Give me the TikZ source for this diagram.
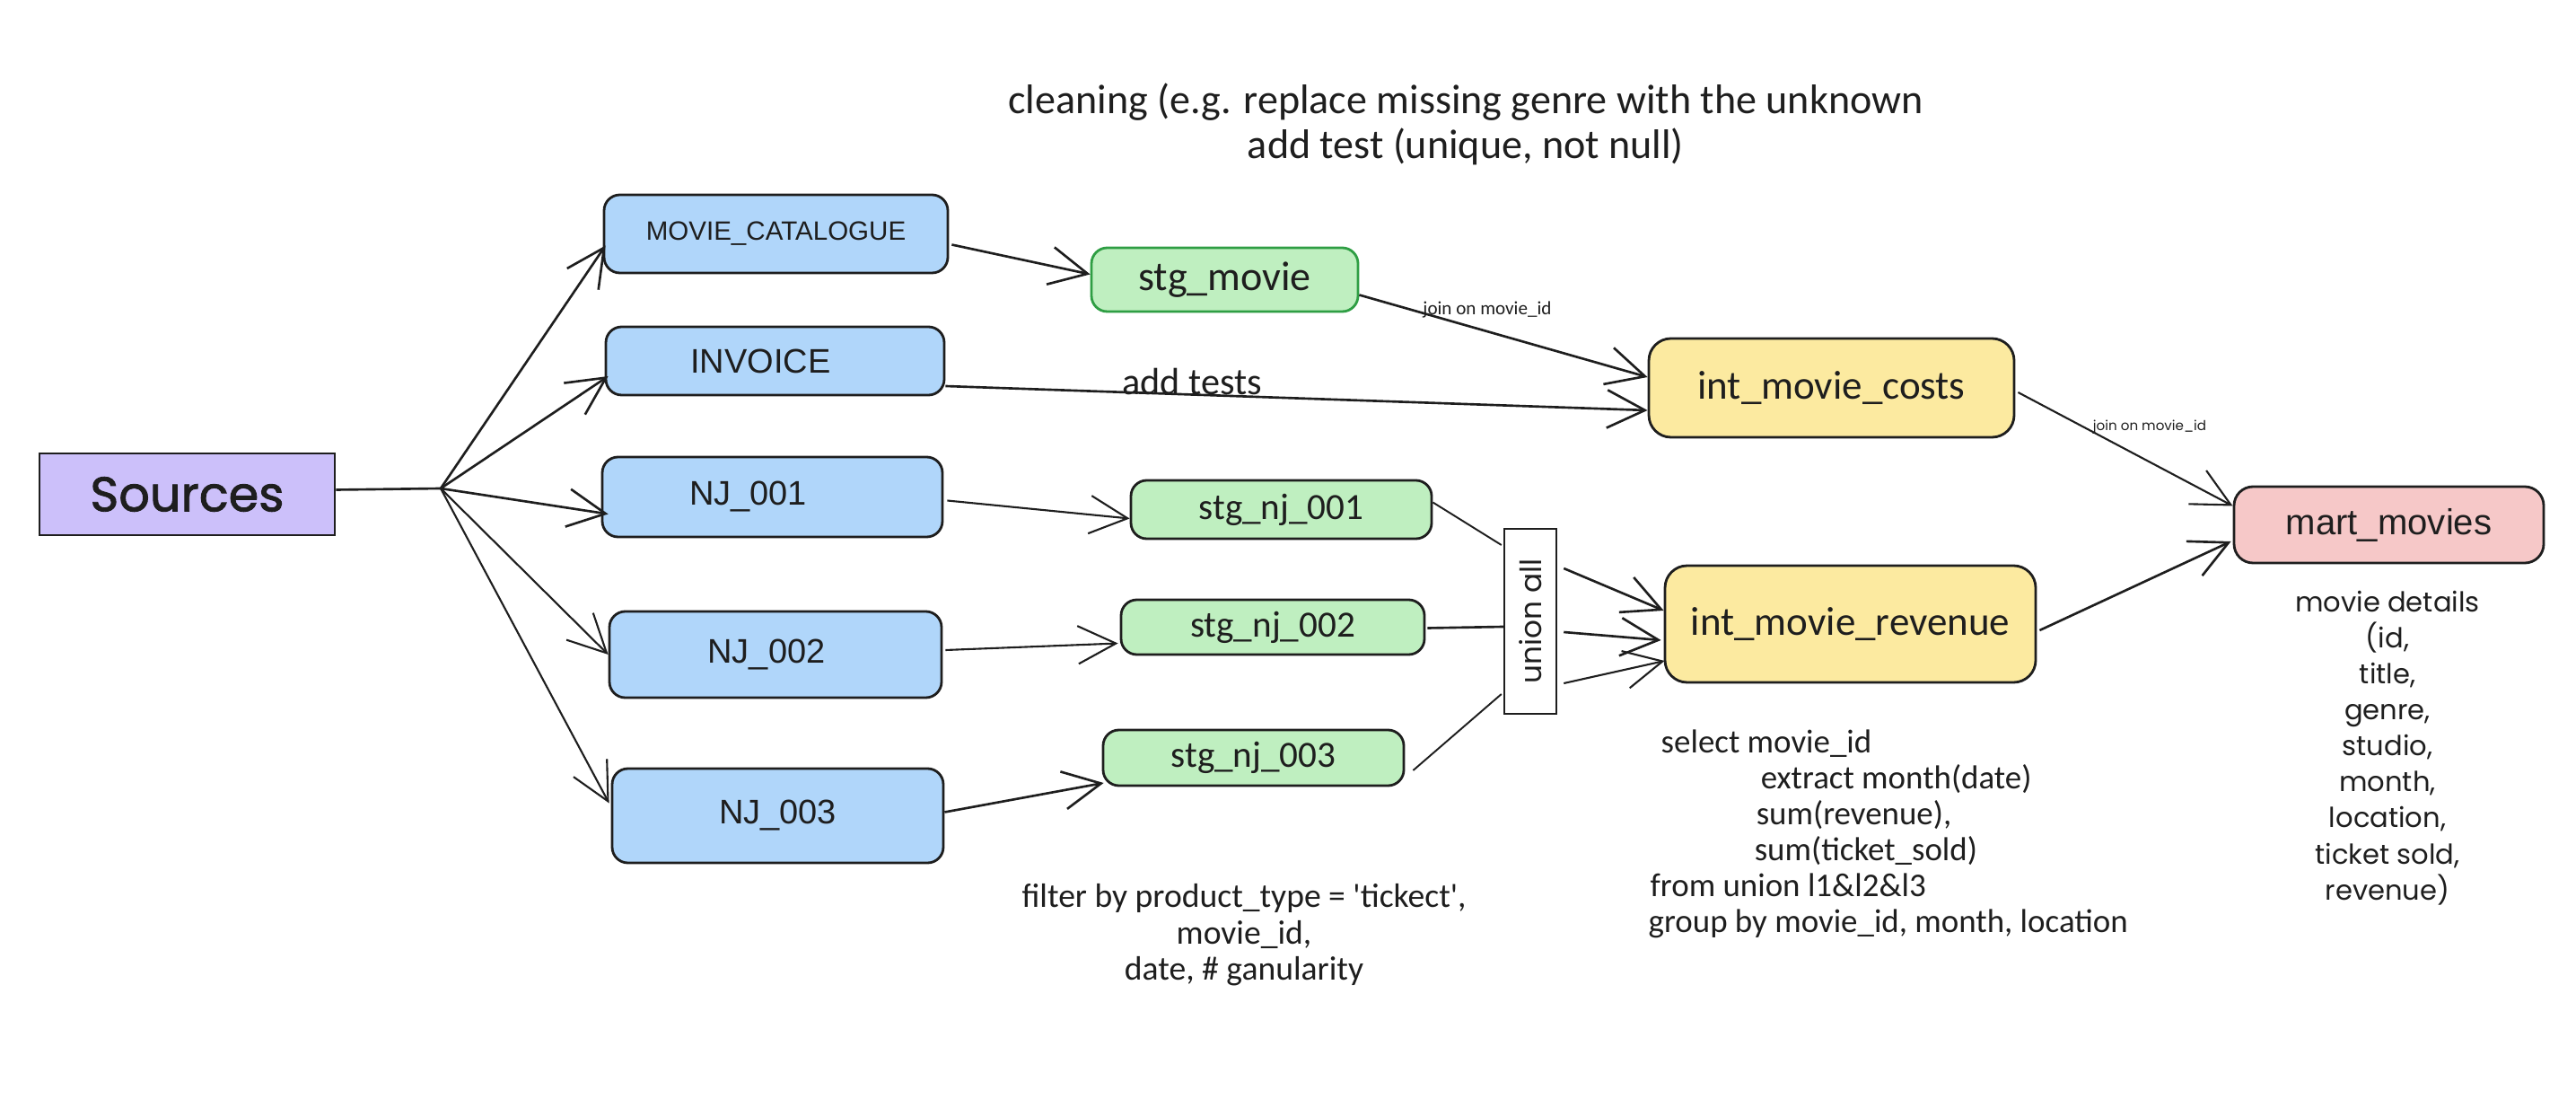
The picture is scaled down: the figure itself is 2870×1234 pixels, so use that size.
\documentclass[tikz,border=0pt]{standalone}
\usepackage{fontspec}
\setmainfont{Liberation Sans}
\newfontfamily\handfont{Carlito}
\newfontfamily\roundfont{Poppins}
\newfontfamily\roundbold[FakeBold=1.6]{Poppins}
\usetikzlibrary{arrows.meta,calc}
\definecolor{cblue}{HTML}{B0D6FA}
\definecolor{cgreen}{HTML}{BFEFC0}
\definecolor{cgreenline}{HTML}{2F9E44}
\definecolor{cyellow}{HTML}{FCEAA0}
\definecolor{cred}{HTML}{F6C8C8}
\definecolor{cviolet}{HTML}{CCC0FA}
\definecolor{ink}{HTML}{1E1E1E}
\newcommand{\fsz}[2]{\fontsize{#1}{#2}\selectfont}
\begin{document}
\begin{tikzpicture}[x=0.01cm,y=-0.01cm,
  every node/.style={text=ink},
  sz/.style 2 args={minimum width=#1*0.01cm, minimum height=#2*0.01cm},
  box/.style={draw=ink, line width=0.8pt, rounded corners=5pt, inner sep=0pt},
  srcbox/.style={box, fill=cviolet, sharp corners},
  bluebox/.style={box, fill=cblue},
  greenbox/.style={box, fill=cgreen},
  stgmbox/.style={box, fill=cgreen, draw=cgreenline},
  yellowbox/.style={box, fill=cyellow, rounded corners=7pt},
  redbox/.style={box, fill=cred, rounded corners=6pt},
  unionbox/.style={draw=ink, line width=0.7pt, fill=white, inner sep=0pt, sharp corners},
  arr/.style={draw=ink, line width=0.75pt, -{Straight Barb[length=12pt,width=12pt]}},
  plainline/.style={draw=ink, line width=0.55pt},
  notetext/.style={inner sep=0pt},
]
\useasboundingbox (0,0) rectangle (2870,1234);

% ---------- nodes ----------
\node[srcbox, sz={329}{91}, font={\roundbold\fsz{15.4pt}{18pt}}] (src) at (208.5,550.5) {Sources};

\node[bluebox, sz={383}{87}, font={\fsz{8.4pt}{10pt}}] (mc) at (864.5,260.5) {MOVIE\_CATALOGUE};
\node[bluebox, sz={377}{76}, font={\fsz{10.8pt}{13pt}}] (inv) at (863.5,402) {INVOICE\hspace*{0.32cm}};
\node[bluebox, sz={379}{89}, font={\fsz{10.8pt}{13pt}}] (nj1) at (860.5,553.5) {NJ\_001\hspace*{0.54cm}};
\node[bluebox, sz={370}{96}, font={\fsz{10.8pt}{13pt}}] (nj2) at (864,729) {NJ\_002\hspace*{0.2cm}};
\node[bluebox, sz={369}{105}, font={\fsz{10.8pt}{13pt}}] (nj3) at (866.5,908.5) {NJ\_003};

\node[stgmbox, sz={297}{71}, font={\handfont\fsz{13.1pt}{15pt}}] (stgm) at (1364.5,311.5) {stg\_movie};
\node[greenbox, sz={335}{65}, font={\handfont\fsz{11.7pt}{14pt}}] (stg1) at (1427.5,567.5) {stg\_nj\_001};
\node[greenbox, sz={338}{61}, font={\handfont\fsz{11.7pt}{14pt}}] (stg2) at (1418,698.5) {stg\_nj\_002};
\node[greenbox, sz={335}{62}, font={\handfont\fsz{11.7pt}{14pt}}] (stg3) at (1396.5,844) {stg\_nj\_003};

\node[unionbox, sz={58}{206}] (union) at (1705,692) {};
\node[notetext, rotate=90, font={\roundfont\fsz{9.3pt}{11pt}}] (uniontxt) at (union.center) {union all};

\node[yellowbox, sz={407}{110}, font={\handfont\fsz{12.8pt}{15pt}}] (imc) at (2040.5,432) {int\_movie\_costs};
\node[yellowbox, sz={413}{130}, font={\handfont\fsz{12.8pt}{15pt}}] (imr) at (2061.5,695) {int\_movie\_revenue};

\node[redbox, sz={345}{85}, font={\fsz{11.4pt}{13pt}}] (mart) at (2661.5,584.5) {mart\_movies};

% ---------- free texts ----------
\node[notetext, align=center, font={\handfont\fsz{13.1pt}{14.2pt}}] (title) at (1633,138)
  {cleaning (e.g. replace missing genre with the unknown\\add test (unique, not null)};

\node[notetext, align=center, font={\handfont\fsz{10.7pt}{11.5pt}}] (filt) at (1386,1041.5)
  {filter by product\_type = 'tickect',\\movie\_id,\\date, \# ganularity};

\node[notetext, align=left, anchor=west, font={\handfont\fsz{10.5pt}{11.4pt}}] (sel) at (1836,929)
  {\hspace*{0.14cm}select movie\_id\\
   \hspace*{1.25cm}extract month(date)\\
   \hspace*{1.2cm}sum(revenue),\\
   \hspace*{1.18cm}sum(ticket\_sold)\\
   \hspace*{0.02cm}from union l1\&l2\&l3\\
   group by movie\_id, month, location};

\node[notetext, align=center, font={\roundfont\fsz{8.7pt}{11.4pt}}] (details) at (2660,833)
  {movie details\\(id,\\title,\\genre,\\studio,\\month,\\location,\\ticket sold,\\revenue)};

% ---------- connectors ----------
\coordinate (fan) at (491,544);
\draw[plainline, line width=0.75pt] ($(src.east)+(0,-5)$) -- (fan);
\draw[arr] (fan) -- ($(mc.west)+(3,13)$);
\draw[arr] (fan) -- ($(inv.west)+(4,17)$);
\draw[arr] (fan) -- ($(nj1.west)+(8,19)$);
\draw[arr, line width=0.6pt] (fan) -- ($(nj2.west)+(0,0)$);
\draw[arr, line width=0.6pt] (fan) -- ($(nj3.west)+(-2,-14)$);

\draw[arr] ($(mc.east)+(3,12)$) -- ($(stgm.west)+(0,-6)$);
\draw[arr] ($(stgm.east)+(0,17)$) -- ($(imc.west)+(0,-12)$);
\node[notetext, font={\handfont\fsz{6pt}{7pt}}] (join1) at (1657,345) {join on movie\_id};

\draw[arr] ($(inv.east)+(0,28)$) -- ($(imc.west)+(0,25)$);
\node[notetext, anchor=base, font={\handfont\fsz{12pt}{14pt}}] (addt) at (1328,440) {add tests};

\draw[arr, line width=0.6pt] ($(imc.east)+(3,5)$) -- ($(mart.west)+(0,-21)$);
\node[notetext, font={\roundfont\fsz{4.3pt}{5pt}}] (join2) at (2395,476) {join on movie\_id};

\draw[arr, line width=0.6pt] ($(nj1.east)+(4,4)$) -- ($(stg1.west)+(0,10)$);
\draw[arr, line width=0.6pt] ($(nj2.east)+(3,-5)$) -- ($(stg2.west)+(-2,18)$);
\draw[arr] ($(nj3.east)+(0,-4)$) -- ($(stg3.west)+(2,28)$);

\draw[plainline] ($(stg1.east)+(0,-8)$) -- ($(union.west)+(-2,-85)$);
\draw[plainline, line width=0.75pt] ($(stg2.east)+(2,1)$) -- ($(union.west)+(0,6)$);
\draw[plainline] ($(stg3.east)+(9,14)$) -- ($(union.west)+(-2,81)$);

\draw[arr] ($(union.east)+(7,-59)$) -- ($(imr.west)+(0,-15)$);
\draw[arr] ($(union.east)+(7,12)$) -- ($(imr.west)+(-3,18)$);
\draw[arr, line width=0.6pt] ($(union.east)+(7,69)$) -- ($(imr.west)+(1,41)$);

\draw[arr] ($(imr.east)+(3,7)$) -- ($(mart.west)+(-2,18.5)$);
\end{tikzpicture}
\end{document}
